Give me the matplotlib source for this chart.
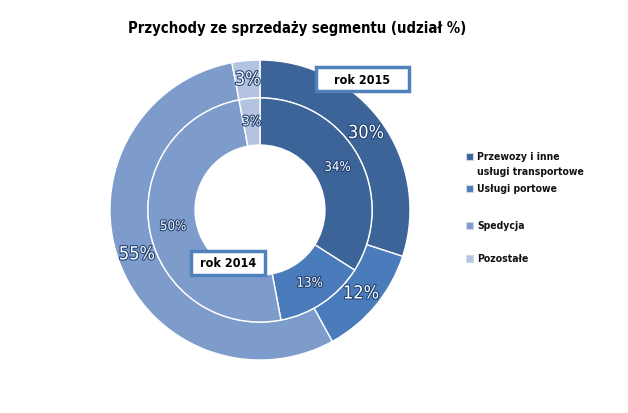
import matplotlib
matplotlib.use("Agg")
import matplotlib.pyplot as plt
import matplotlib.patches as mpatches
import matplotlib.patheffects as pe
import numpy as np

categories = ["Przewozy i inne\nusługi transportowe", "Usługi portowe", "Spedycja", "Pozostałe"]
values_2015 = [30, 12, 55, 3]
values_2014 = [34, 13, 50, 3]
colors = ["#3D6499", "#4A7BBA", "#7D9CCB", "#B4C4E0"]
title = "Przychody ze sprzedaży segmentu (udział %)"

FONT = ["DejaVu Sans", "Liberation Sans"]
plt.rcParams['font.family'] = FONT
plt.rcParams['font.stretch'] = 'condensed'

W, H = 628, 414
fig = plt.figure(figsize=(W/100, H/100), dpi=100)
cx, cy, R = 260, 211, 150
ax = fig.add_axes([(cx-R)/W, (H-cy-R)/H, 2*R/W, 2*R/H])

wp = dict(edgecolor='white', linewidth=1)
w_out, _ = ax.pie(values_2015, radius=1.0, colors=colors, startangle=90, counterclock=False,
                  wedgeprops=dict(width=0.253, **wp))
w_in, _ = ax.pie(values_2014, radius=0.747, colors=colors, startangle=90, counterclock=False,
                 wedgeprops=dict(width=0.314, **wp))
ax.set_xlim(-1, 1); ax.set_ylim(-1, 1); ax.set_aspect('equal'); ax.axis('off')

def labels(vals, r, size):
    start = 90.0
    tot = sum(vals)
    for v in vals:
        ang = start - v/tot*360/2
        start -= v/tot*360
        x, y = r*np.cos(np.radians(ang)), r*np.sin(np.radians(ang))
        t = ax.text(x, y, f"{v}%", ha='center', va='center', color='white', fontsize=size,
                    fontstretch='condensed')
        t.set_path_effects([pe.withStroke(linewidth=1.5, foreground='#1F3F70')])

labels(values_2015, 0.873, 13)
labels(values_2014, 0.59, 9.5)

def box(x0, y0, x1, y1, text):
    r = mpatches.Rectangle((x0/W, 1-y1/H), (x1-x0)/W, (y1-y0)/H, transform=fig.transFigure,
                           facecolor='white', edgecolor='#4F81BD', linewidth=2.5, zorder=5)
    fig.add_artist(r)
    fig.text((x0+x1)/2/W, 1-(y0+y1)/2/H, text, ha='center', va='center', fontsize=9,
             fontweight='bold', zorder=6)

box(316, 68, 409, 92, "rok 2015")
box(191, 252, 265, 276, "rok 2014")

fig.text(297/W, 1-28/H, title, ha='center', va='center', fontsize=10.6, fontweight='bold')

leg_y = [157, 189, 226, 259]
for c, lab, y in zip(colors, categories, leg_y):
    fig.add_artist(mpatches.Rectangle((466/W, 1-(y+4)/H), 7/W, 7/H, transform=fig.transFigure,
                                      facecolor=c, edgecolor='#D0D8E8', linewidth=0.8))
    if "\n" in lab:
        fig.text(477/W, 1-(y-5)/H, lab, ha='left', va='top', fontsize=7.5, fontweight='bold',
                 linespacing=1.6, color='#111111')
    else:
        fig.text(477/W, 1-y/H, lab, ha='left', va='center', fontsize=7.5, fontweight='bold',
                 color='#111111')

fig.savefig("out.png", dpi=100)
